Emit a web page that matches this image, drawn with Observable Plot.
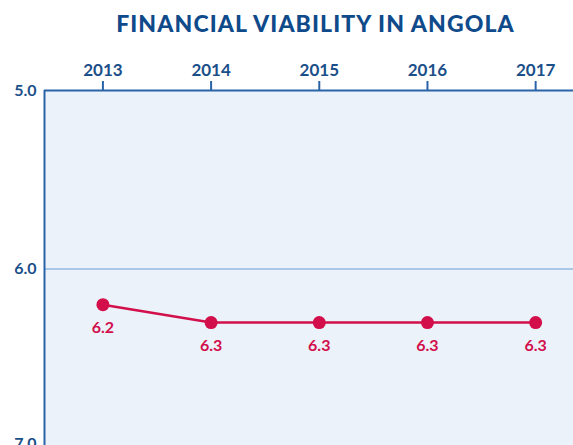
<!DOCTYPE html>
<html><head><meta charset="utf-8">
<script src="https://cdn.jsdelivr.net/npm/d3@7"></script>
<script src="https://cdn.jsdelivr.net/npm/@observablehq/plot@0.6"></script>
<style>
body{margin:0;background:#fff;font-family:Lato,"Open Sans",sans-serif;}
#title{height:44px;margin:0;padding:0;text-align:center;font-weight:900;font-size:23px;letter-spacing:1.1px;color:#0f4a8a;line-height:46px;padding-left:58px;}
</style></head><body>
<div id="title">FINANCIAL VIABILITY IN ANGOLA</div>
<div id="chart"></div>
<script>
const years = [2013, 2014, 2015, 2016, 2017];
const scores = [6.2, 6.3, 6.3, 6.3, 6.3];
const yTicks = [5, 6, 7];
const data = years.map((y, i) => ({year: y, score: scores[i]}));
const blue = "#1b4f8a", crimson = "#d20f4b";
const plot = Plot.plot({
  width: 573, height: 401,
  marginTop: 46, marginLeft: 44, marginRight: 0, marginBottom: 0,
  style: {fontFamily: "Lato, 'Open Sans', sans-serif", background: "#fff", overflow: "visible"},
  x: {domain: [2012.46, 2017.35], axis: null},
  y: {domain: [5, 7], range: [46, 403], axis: null},
  marks: [
    Plot.frame({fill: "#ebf2fa", stroke: null}),
    Plot.ruleY([6], {stroke: "#a9c8e8", strokeWidth: 2}),
    Plot.ruleY([5], {stroke: "#2a64a8", strokeWidth: 2}),
    Plot.ruleX([2012.46], {stroke: "#2a64a8", strokeWidth: 2}),
    Plot.axisX({anchor: "top", ticks: years, tickFormat: "d", tickSize: 10, tickPadding: 5, stroke: "#2a64a8", strokeWidth: 2, fill: blue, fontSize: 17, fontWeight: "bold", label: null}),
    Plot.axisY({anchor: "left", ticks: yTicks.slice(0, 2), tickFormat: d3.format(".1f"), tickSize: 0, tickPadding: 8, fill: blue, fontSize: 16, fontWeight: "bold", label: null}),
    Plot.axisY({anchor: "left", ticks: yTicks.slice(2), tickFormat: d3.format(".1f"), tickSize: 0, tickPadding: 8, dy: -4, fill: blue, fontSize: 16, fontWeight: "bold", label: null}),
    Plot.line(data, {x: "year", y: "score", stroke: crimson, strokeWidth: 2.5}),
    Plot.dot(data, {x: "year", y: "score", r: 6.5, fill: crimson}),
    Plot.text(data, {x: "year", y: "score", text: d => d.score.toFixed(1), dy: 23, fill: crimson, fontSize: 16, fontWeight: "bold"})
  ]
});
document.getElementById("chart").appendChild(plot);
</script></body></html>
